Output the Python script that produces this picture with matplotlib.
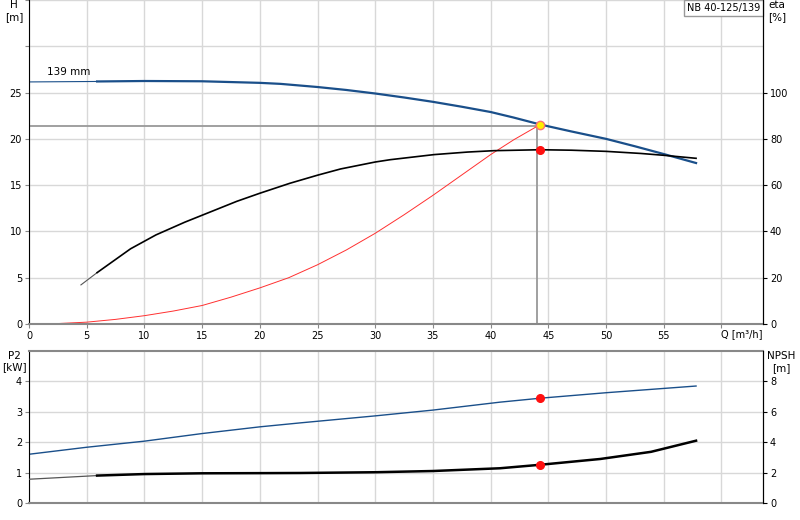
import numpy as np
import matplotlib
matplotlib.use("Agg")
import matplotlib.pyplot as plt

plt.rcParams['font.family'] = ['DejaVu Sans']
plt.rcParams['font.size'] = 7

# pump curve H(Q)
q_head = [0, 5.9, 10, 15, 20, 21.8, 25, 27.5, 30, 32.5, 35, 37.5, 40, 42, 44.3, 47, 50, 52.5, 55, 57.8]
head = [26.15, 26.2, 26.25, 26.22, 26.05, 25.94, 25.6, 25.28, 24.9, 24.47, 24.0, 23.47, 22.9, 22.3, 21.55,
        20.8, 20.0, 19.2, 18.36, 17.39]

# efficiency eta(Q) [%]
q_eta = [4.5, 5.9, 8.8, 11, 13.5, 16, 18, 20, 22.6, 25, 27, 30, 31.3, 35.1, 38, 40.3, 44.3, 47, 50, 53,
         55, 57.8]
eta = [16.9, 22.2, 32.5, 38.5, 44.0, 49.0, 53.0, 56.5, 60.8, 64.3, 67.0, 70.0, 71.0, 73.2, 74.3, 74.9,
       75.3, 75.1, 74.6, 73.7, 72.9, 71.6]

# system curve
q_sys = [0, 2.5, 5, 7.5, 10, 12.5, 15, 17.5, 20, 22.5, 25, 27.5, 30, 32.5, 35, 37.5, 40, 42, 44.3]
h_sys = [0, 0.05, 0.2, 0.5, 0.9, 1.4, 2.0, 2.9, 3.9, 5.0, 6.4, 8.0, 9.8, 11.8, 13.9, 16.1, 18.3, 19.9, 21.55]

# power P2 [kW]
q_p2 = [0, 5, 10, 15, 20, 23.5, 30, 35, 40.8, 44.3, 50, 57.8]
p2 = [1.6, 1.83, 2.03, 2.28, 2.5, 2.63, 2.86, 3.05, 3.31, 3.44, 3.62, 3.84]

# NPSH [m]
q_npsh = [0, 5.9, 10, 15, 20, 23.5, 30, 35, 40.8, 44.3, 49.5, 53.9, 57.8]
npsh = [1.56, 1.8, 1.9, 1.95, 1.96, 1.97, 2.02, 2.1, 2.28, 2.51, 2.89, 3.36, 4.09]

duty_q = 44.3
duty_h = 21.55
duty_eta = 75.3
duty_p2 = 3.44
duty_npsh = 2.51

blue = '#1a4f8a'
gridc = '#d8d8d8'
xmax = 63.6

fig = plt.figure(figsize=(8, 5.2), dpi=100)
ax = fig.add_axes([0.03625, 0.3769, 0.9175, 0.6231])
ax2 = ax.twinx()
bx = fig.add_axes([0.03625, 0.0327, 0.9175, 0.2929])
bx2 = bx.twinx()

for a in (ax, bx):
    a.set_xlim(0, xmax)
    a.set_xticks(np.arange(0, 61, 5))
    a.grid(True, color=gridc, lw=1)
    a.set_axisbelow(True)
    a.tick_params(length=3, color='#888888', pad=2)
    a.spines['left'].set_color('black')
    a.spines['bottom'].set_color('#888888')
    a.spines['bottom'].set_linewidth(1.5)
    a.spines['top'].set_color('#888888')
    a.spines['top'].set_linewidth(1.5)
for a in (ax2, bx2):
    a.spines['right'].set_color('black')
    a.spines['top'].set_visible(False)
    a.spines['bottom'].set_visible(False)
    a.spines['left'].set_visible(False)
    a.tick_params(length=3, color='black', pad=2)

ax.spines['top'].set_visible(False)

# top chart
ax.set_ylim(0, 35)
ax.set_yticks(np.arange(0, 36, 5))
ax.set_yticklabels(['0', '5', '10', '15', '20', '25', '', ''])
ax.set_xticklabels([str(v) for v in range(0, 60, 5)] + [''])
ax.text(60, -0.6, 'Q [m³/h]', ha='left', va='top', fontsize=7)
ax2.set_ylim(0, 140)
ax2.set_yticks([0, 20, 40, 60, 80, 100])

ax.plot(q_head[:2], head[:2], color=blue, lw=0.8)
ax.plot(q_head[1:], head[1:], color=blue, lw=1.6)
ax.plot(q_sys, h_sys, color='#ff3030', lw=0.7)
ax2.plot(q_eta[:2], eta[:2], color='#555555', lw=0.8)
ax2.plot(q_eta[1:], eta[1:], color='black', lw=1.2)

ax.plot([0, duty_q], [duty_h - 0.15, duty_h - 0.15], color='#999999', lw=1.3, zorder=1.5)
ax.plot([duty_q - 0.25, duty_q - 0.25], [0, duty_h], color='#999999', lw=1.3, zorder=1.5)
ax.plot(duty_q, duty_h, 'o', ms=6, mfc='#ffee00', mec='#ff7070', mew=1, zorder=5)
ax2.plot(duty_q, duty_eta, 'o', ms=5.5, color='#ff1010', zorder=5)

ax.text(1.6, 27.2, '139 mm', va='center', ha='left', fontsize=7.5)
ax.text(xmax - 0.25, 34.7, 'NB 40-125/139', ha='right', va='top', fontsize=7, zorder=6,
        bbox=dict(boxstyle='square,pad=0.3', fc='white', ec='#999999', lw=1))

fig.text(14 / 800, 1 - 5 / 520, 'H', ha='center', va='center', fontsize=7.5)
fig.text(14 / 800, 1 - 17 / 520, '[m]', ha='center', va='center', fontsize=7.5)
fig.text(777 / 800, 1 - 5 / 520, 'eta', ha='center', va='center', fontsize=7.5)
fig.text(777 / 800, 1 - 17 / 520, '[%]', ha='center', va='center', fontsize=7.5)

# bottom chart
bx.set_ylim(0, 5)
bx.set_yticks([0, 1, 2, 3, 4])
bx.set_xticklabels([])
bx.tick_params(axis='x', length=0)
bx2.set_ylim(0, 10)
bx2.set_yticks([0, 2, 4, 6, 8])

bx.plot(q_p2, p2, color=blue, lw=1)
bx2.plot(q_npsh[:2], npsh[:2], color='#555555', lw=0.9)
bx2.plot(q_npsh[1:], npsh[1:], color='black', lw=1.8)
bx.plot(duty_q, duty_p2, 'o', ms=5.5, color='#ff1010', zorder=5)
bx2.plot(duty_q, duty_npsh, 'o', ms=5.5, color='#ff1010', zorder=5)

fig.text(14 / 800, 1 - 356 / 520, 'P2', ha='center', va='center', fontsize=7.5)
fig.text(14 / 800, 1 - 367 / 520, '[kW]', ha='center', va='center', fontsize=7.5)
fig.text(781 / 800, 1 - 356 / 520, 'NPSH', ha='center', va='center', fontsize=7.5)
fig.text(781 / 800, 1 - 368 / 520, '[m]', ha='center', va='center', fontsize=7.5)

fig.savefig('out.png', dpi=100)
